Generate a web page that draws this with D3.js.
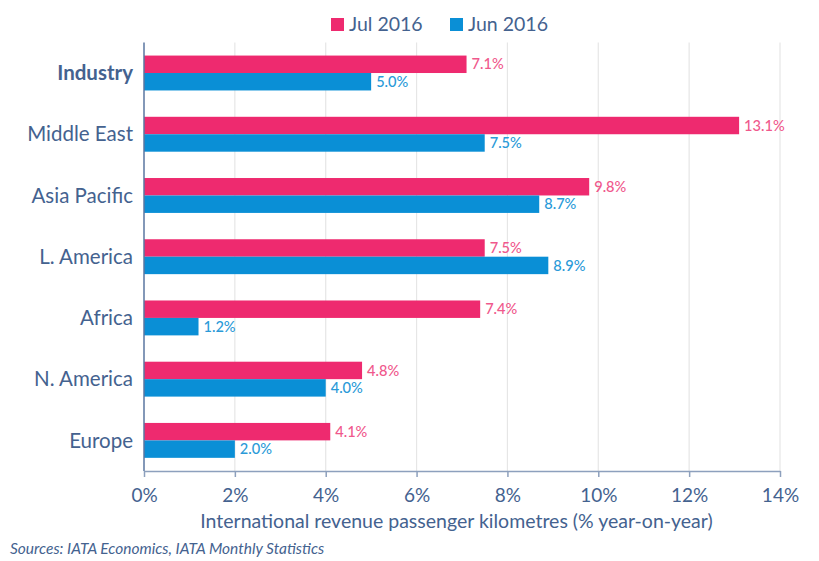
<!DOCTYPE html>
<html><head><meta charset="utf-8">
<script src="https://cdn.jsdelivr.net/npm/d3@7"></script>
<style>body{margin:0;background:#fff;}</style>
</head><body>
<svg id="c" width="819" height="561" font-family="Lato, 'Open Sans', sans-serif"></svg>
<script>
const categories = ["Industry","Middle East","Asia Pacific","L. America","Africa","N. America","Europe"];
const jul2016 = [7.1,13.1,9.8,7.5,7.4,4.8,4.1];
const jun2016 = [5.0,7.5,8.7,8.9,1.2,4.0,2.0];
const seriesNames = ["Jul 2016","Jun 2016"];
const ticks = [0,2,4,6,8,10,12,14];

const colors = ["#ee2a6f","#0a8fd6"];
const labelColors = ["#f0588c","#2a9ad8"];
const textColor = "#44628f";
const font = "Lato, 'Open Sans', sans-serif";

const svg = d3.select("#c");
const m = {left:144, right:780, top:42.4, bottom:471};
const x = d3.scaleLinear().domain([0,14]).range([m.left,m.right]);
const y = d3.scaleBand().domain(categories).range([m.top,m.bottom]).paddingInner(0.43).paddingOuter(0.215);
const sub = d3.scaleBand().domain([0,1]).range([0,y.bandwidth()]);

// gridlines
svg.append("g").selectAll("line").data(ticks.slice(1)).join("line")
  .attr("x1",d=>x(d)).attr("x2",d=>x(d)).attr("y1",m.top).attr("y2",m.bottom)
  .attr("stroke","#e6e6e6").attr("stroke-width",1.2);

// bars
const series = [jul2016, jun2016];
series.forEach((vals,si)=>{
  const g = svg.append("g");
  g.selectAll("rect").data(vals).join("rect")
    .attr("x",x(0)).attr("y",(d,i)=>y(categories[i])+sub(si))
    .attr("width",d=>x(d)-x(0)).attr("height",sub.bandwidth())
    .attr("fill",colors[si]);
  g.selectAll("text").data(vals).join("text")
    .attr("x",d=>x(d)+5).attr("y",(d,i)=>y(categories[i])+sub(si)+sub.bandwidth()/2)
    .attr("dy","0.35em").style("font-size","14.6px").style("font-family",font).style("font-weight","500")
    .attr("fill",labelColors[si])
    .text(d=>d.toFixed(1)+"%");
});

// y axis line
svg.append("line").attr("x1",m.left).attr("x2",m.left).attr("y1",m.top).attr("y2",m.bottom)
  .attr("stroke","#5a76a0").attr("stroke-width",1.5);
// category labels
svg.append("g").selectAll("text").data(categories).join("text")
  .attr("x",133).attr("y",d=>y(d)+y.bandwidth()/2).attr("dy","0.35em")
  .attr("text-anchor","end").style("font-size","20.5px").style("font-family",font).attr("fill",textColor)
  .attr("font-weight",(d,i)=>i===0?"bold":"normal").text(d=>d);

// x axis
const xa = svg.append("g").attr("transform",`translate(0,${m.bottom})`)
  .call(d3.axisBottom(x).tickValues(ticks).tickSize(6).tickSizeOuter(0).tickFormat(d=>d+"%"));
xa.select(".domain").attr("stroke","#8da0bd").attr("stroke-width",1.5);
xa.selectAll(".tick line").attr("stroke","#8da0bd").attr("stroke-width",1.5);
xa.selectAll(".tick text").style("font-size","19px").attr("fill",textColor).attr("y",18)
  .style("font-family",font);

svg.append("text").attr("x",456.5).attr("y",528).attr("text-anchor","middle")
  .style("font-size","19.5px").style("font-family",font).attr("fill",textColor)
  .text("International revenue passenger kilometres (% year-on-year)");

svg.append("text").attr("x",10).attr("y",554).style("font-size","15.5px").attr("font-style","italic")
  .style("font-family",font).attr("fill",textColor).text("Sources: IATA Economics, IATA Monthly Statistics");

// legend
const lg = svg.append("g");
const lx = [331,450];
seriesNames.forEach((n,i)=>{
  lg.append("rect").attr("x",lx[i]).attr("y",18).attr("width",13).attr("height",13).attr("fill",colors[i]);
  lg.append("text").attr("x",lx[i]+18).attr("y",24.5).attr("dy","0.35em").style("font-size","19.5px")
    .style("font-family",font).attr("fill",textColor).text(n);
});
</script>
</body></html>
